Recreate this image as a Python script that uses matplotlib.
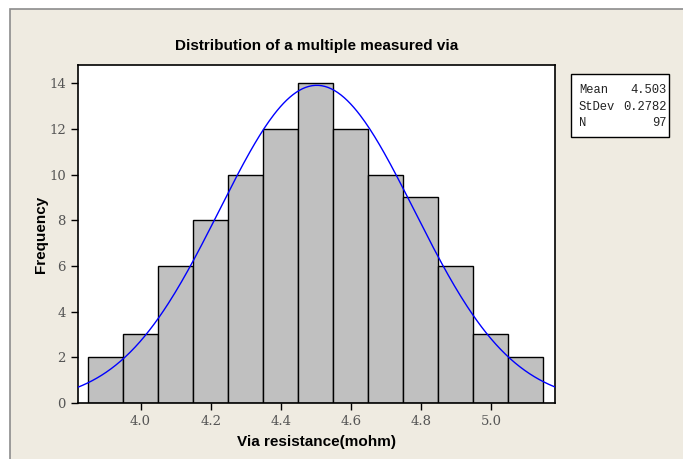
import numpy as np
import matplotlib.pyplot as plt
from matplotlib.patches import Rectangle

# histogram data (bin centres and counts)
bin_centers = [3.9, 4.0, 4.1, 4.2, 4.3, 4.4, 4.5, 4.6, 4.7, 4.8, 4.9, 5.0, 5.1]
counts = [2, 3, 6, 8, 10, 12, 14, 12, 10, 9, 6, 3, 2]
bin_width = 0.1

# fitted normal stats shown in the box
mean = 4.503
stdev = 0.2782
n = 97

x_ticks = [4.0, 4.2, 4.4, 4.6, 4.8, 5.0]
y_ticks = [0, 2, 4, 6, 8, 10, 12, 14]

W, H = 683, 459
fig = plt.figure(figsize=(W / 100, H / 100), dpi=100)
fig.patch.set_facecolor("white")

# beige panel with grey border (screenshot frame, cut off at right/bottom)
fig.patches.append(Rectangle((9.5 / W, -0.1), 1.2, 1.1 - 9.5 / H, transform=fig.transFigure,
                             facecolor="#EFEBE1", edgecolor="#8C8C8C", lw=1.2, zorder=-1))

ax = fig.add_axes([77.5 / W, 1 - 403 / H, (555 - 77.5) / W, (403 - 65) / H])
ax.set_facecolor("white")

ax.bar(bin_centers, counts, width=bin_width, color="#C0C0C0", edgecolor="black", linewidth=1.0, zorder=2)

# normal fit curve scaled to histogram
xs = np.linspace(3.82, 5.183, 300)
ys = n * bin_width / (stdev * np.sqrt(2 * np.pi)) * np.exp(-0.5 * ((xs - mean) / stdev) ** 2)
ax.plot(xs, ys, color="#0000FF", lw=1.0, zorder=3)

ax.set_xlim(3.82, 5.183)
ax.set_ylim(0, 14.8)
ax.set_xticks(x_ticks)
ax.set_xticklabels(["%.1f" % t for t in x_ticks])
ax.set_yticks(y_ticks)
for s in ax.spines.values():
    s.set_linewidth(1.2)
ax.tick_params(direction="out", length=5, width=1, colors="black", labelcolor="#555555",
               labelsize=9.5)
for lab in ax.get_xticklabels() + ax.get_yticklabels():
    lab.set_family("DejaVu Serif")

ax.set_title("Distribution of a multiple measured via", fontsize=11, fontweight="bold",
             family="Liberation Sans", pad=11)
ax.set_xlabel("Via resistance(mohm)", fontsize=11, fontweight="bold", family="Liberation Sans", labelpad=5)
ax.set_ylabel("Frequency", fontsize=11, fontweight="bold", family="Liberation Sans", labelpad=1)

# stats box
fig.patches.append(Rectangle((571 / W, 1 - 136.5 / H), (669 - 571) / W, (136.5 - 74) / H,
                             transform=fig.transFigure, facecolor="white", edgecolor="black", lw=1))
rows = [("Mean", "4.503"), ("StDev", "0.2782"), ("N", "97")]
for i, (k, v) in enumerate(rows):
    y = 1 - (90 + i * 16.5) / H
    fig.text(579 / W, y, k, fontsize=8.7, family="Liberation Mono", color="#222222", va="center")
    fig.text(667 / W, y, v, fontsize=8.7, family="Liberation Mono", color="#222222", va="center", ha="right")

fig.savefig("out.png", dpi=100, facecolor=fig.get_facecolor())
